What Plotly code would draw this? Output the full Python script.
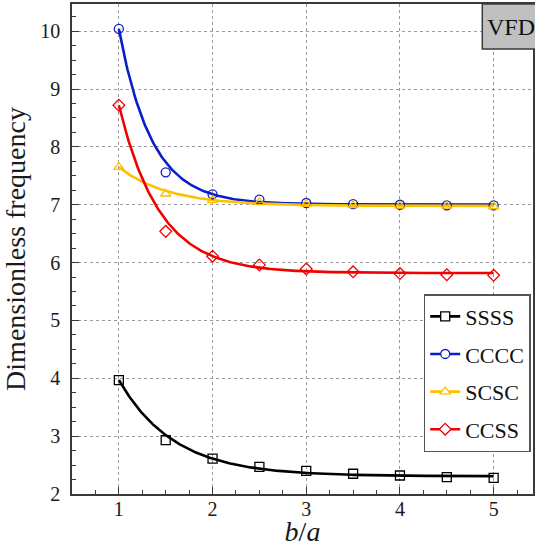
import numpy as np
import plotly.graph_objects as go

# ---- data ----
ba = [1.0, 1.5, 2.0, 2.5, 3.0, 3.5, 4.0, 4.5, 5.0]
ssss = [3.97, 2.93, 2.61, 2.47, 2.40, 2.35, 2.32, 2.29, 2.28]
cccc = [10.04, 7.56, 7.18, 7.09, 7.03, 7.01, 7.00, 6.99, 6.99]
scsc = [7.65, 7.19, 7.08, 7.04, 7.01, 6.99, 6.98, 6.98, 6.97]
ccss = [8.72, 6.54, 6.11, 5.96, 5.89, 5.84, 5.81, 5.79, 5.78]

names = ["SSSS", "CCCC", "SCSC", "CCSS"]
colors = ["#000000", "#0a1ec8", "#ffc000", "#f20000"]
symbols = ["square-open", "circle-open", "triangle-up-open", "diamond-open"]
series = [ssss, cccc, scsc, ccss]


def fit_curve(x, y, xs):
    """least-squares fit y = a + b*exp(-c*(x-1)^p) (b/a = 1.5 points left out, as in the original)"""
    x = np.asarray(x, float)
    y = np.asarray(y, float)
    m = x != 1.5
    xf, yf = x[m], y[m]
    w = np.where(xf <= 2.0, 6.0, 1.0)
    best = None
    for c in np.linspace(0.5, 6, 111):
        for p in np.linspace(1.0, 1.6, 25):
            g = np.exp(-c * (xf - 1) ** p)
            A = np.column_stack([np.ones_like(g), g])
            coef, *_ = np.linalg.lstsq(A * w[:, None], yf * w, rcond=None)
            r = np.sum((w * (A @ coef - yf)) ** 2)
            if best is None or r < best[0]:
                best = (r, c, p, coef)
    _, c, p, coef = best
    return coef[0] + coef[1] * np.exp(-c * (xs - 1) ** p)


xs = np.linspace(1, 5, 300)
fig = go.Figure()
for nm, col, sym, ys in zip(names, colors, symbols, series):
    fig.add_trace(go.Scatter(x=xs, y=fit_curve(ba, ys, xs), mode="lines",
                             line=dict(color=col, width=2.6), showlegend=False,
                             hoverinfo="skip"))
for nm, col, sym, ys in zip(names, colors, symbols, series):
    fig.add_trace(go.Scatter(x=ba, y=ys, mode="markers", name=nm, legendgroup=nm,
                             marker=dict(symbol=sym, size=9, color=col,
                                         line=dict(color=col, width=1.3)),
                             showlegend=False))
    # legend entry: line + marker
    fig.add_trace(go.Scatter(x=[None], y=[None], mode="lines+markers", name=nm,
                             legendgroup=nm,
                             line=dict(color=col, width=2.6),
                             marker=dict(symbol=sym.replace("-open", ""), size=9,
                                         color="white",
                                         line=dict(color=col, width=1.3))))

font = "Liberation Serif"
axis_common = dict(showline=True, mirror=True, linecolor="#3a3a3a", linewidth=1.5,
                   ticks="inside", ticklen=7, tickwidth=1.2, tickcolor="#3a3a3a",
                   showgrid=True, gridcolor="#9a9a9a", gridwidth=1, griddash="3px,3px",
                   zeroline=False, tickfont=dict(family=font, size=20, color="#1a1a1a"),
                   minor=dict(ticks="inside", ticklen=4, tickcolor="#3a3a3a",
                              dtick=0.25, showgrid=False))

fig.update_xaxes(range=[0.5, 5.42], tickvals=[1, 2, 3, 4, 5], ticklabelstandoff=-4,
                 title=dict(text="<i>b</i>/<i>a</i>", font=dict(family=font, size=28, color="#1a1a1a"),
                            standoff=6),
                 **axis_common)
fig.update_yaxes(range=[2, 10.47], tickvals=[2, 3, 4, 5, 6, 7, 8, 9, 10], ticklabelstandoff=6,
                 title=dict(text="Dimensionless frequency", font=dict(family=font, size=28, color="#1a1a1a"),
                            standoff=10),
                 **axis_common)

fig.add_shape(type="rect", xref="paper", yref="paper", x0=0.89, x1=1.05, y0=0.908, y1=1.0,
              fillcolor="#c0c0c0", line=dict(color="#3a3a3a", width=1.5), layer="above")
fig.add_annotation(xref="paper", yref="paper", x=0.895, y=0.954, xanchor="left", yanchor="middle",
                   text="VFD", showarrow=False, font=dict(family=font, size=24, color="#111"))

fig.update_layout(
    width=535, height=547,
    margin=dict(l=72, r=0, t=4, b=53),
    font=dict(family=font),
    plot_bgcolor="white", paper_bgcolor="white",
    legend=dict(x=0.995, y=0.408, xanchor="right", yanchor="top",
                bgcolor="white", bordercolor="#555", borderwidth=1.5,
                font=dict(family=font, size=22, color="#111"),
                itemwidth=30, tracegroupgap=6),
)

fig.write_html("out.html")
